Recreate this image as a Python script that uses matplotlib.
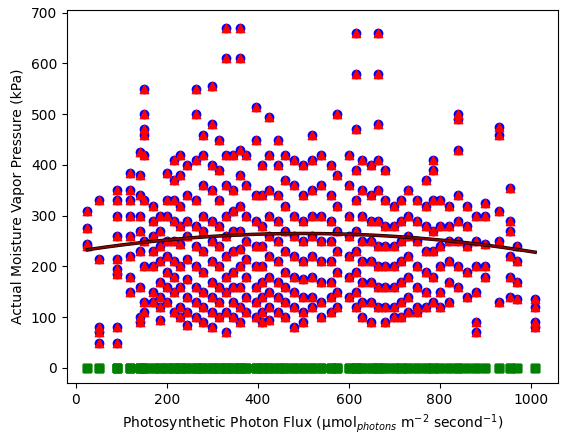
import numpy as np
import matplotlib.pyplot as plt

# photon flux columns and the vapor pressures measured at each
flux = [25, 50, 90, 120, 140, 150, 170, 185, 200, 215, 230, 245, 265, 280, 300, 315,
        330, 345, 360, 375, 395, 410, 425, 445, 460, 480, 500, 520, 540, 560, 575,
        600, 615, 630, 650, 665, 680, 700, 715, 730, 750, 770, 785, 800, 820, 840,
        860, 880, 900, 930, 955, 970, 1010]
vapor = [
    [310, 275, 245, 240],
    [330, 215, 80, 70, 50],
    [350, 330, 300, 260, 215, 195, 185, 80, 50],
    [385, 350, 330, 300, 260, 220, 180, 150],
    [425, 380, 340, 300, 270, 230, 160, 100, 90],
    [550, 500, 470, 460, 420, 330, 250, 200, 130, 110],
    [320, 290, 260, 230, 200, 150, 130],
    [300, 270, 240, 210, 170, 140, 120, 95],
    [385, 330, 300, 250, 220, 190, 160, 130],
    [410, 370, 330, 290, 250, 210, 180, 150, 110],
    [420, 380, 320, 280, 245, 200, 160, 120, 100],
    [400, 340, 290, 260, 215, 175, 140, 110, 85],
    [550, 500, 410, 330, 280, 240, 200, 160, 130, 100],
    [460, 420, 360, 300, 270, 230, 190, 150, 120, 90],
    [555, 480, 400, 350, 290, 250, 210, 170, 140, 110, 80],
    [450, 390, 330, 280, 240, 200, 160, 130, 100],
    [670, 610, 420, 360, 300, 260, 220, 180, 150, 110, 70],
    [420, 350, 310, 270, 230, 190, 160, 130, 100],
    [670, 610, 430, 380, 320, 270, 235, 200, 160, 120, 90],
    [420, 360, 300, 250, 215, 180, 140, 110],
    [515, 450, 340, 290, 240, 200, 160, 130, 100],
    [400, 340, 280, 240, 200, 170, 140, 110, 90],
    [495, 420, 350, 300, 260, 220, 180, 150, 120, 95],
    [450, 400, 340, 290, 250, 210, 170, 140, 110],
    [420, 370, 320, 270, 230, 190, 160, 130, 100],
    [410, 360, 300, 260, 220, 180, 150, 120, 80],
    [400, 340, 290, 250, 210, 175, 140, 110, 90],
    [460, 410, 350, 300, 260, 220, 180, 140, 120],
    [420, 360, 300, 250, 210, 170, 130, 100],
    [400, 340, 290, 250, 210, 170, 140, 110],
    [500, 380, 320, 270, 230, 190, 150, 120],
    [420, 360, 300, 260, 220, 180, 140],
    [660, 580, 470, 390, 330, 270, 230, 190, 150, 120],
    [410, 350, 300, 250, 210, 170, 130, 100],
    [400, 340, 290, 250, 210, 170, 130, 90],
    [660, 580, 480, 410, 350, 290, 240, 200, 160, 120],
    [390, 330, 280, 240, 200, 160, 120, 90],
    [320, 280, 240, 200, 160, 120, 100],
    [330, 290, 250, 210, 170, 130, 100],
    [350, 300, 260, 220, 180, 140, 110],
    [330, 290, 250, 200, 160, 120, 110],
    [370, 320, 280, 230, 190, 150, 120],
    [410, 390, 330, 270, 230, 180, 130],
    [330, 280, 240, 200, 150, 120],
    [320, 280, 250, 210, 170, 130],
    [500, 490, 430, 340, 290, 250, 200, 160],
    [320, 280, 240, 190, 140],
    [300, 250, 200, 150, 90, 70],
    [325, 300, 245, 200, 180],
    [475, 460, 310, 250, 130],
    [355, 290, 270, 220, 180, 140],
    [240, 210, 170, 135],
    [135, 120, 90, 80],
]

# quadratic trend: peak value, peak location, curvature
fit_peak, fit_x0, fit_a = 265.0, 500.0, -1.42e-4

xs = np.concatenate([[f] * len(v) for f, v in zip(flux, vapor)])
ys = np.concatenate(vapor)

fig, ax = plt.subplots(figsize=(5.71, 4.44), dpi=100)
ax.scatter(xs, np.zeros_like(ys), color='green', marker='s', s=40, zorder=2)
ax.scatter(xs, ys, color='blue', marker='o', s=36, zorder=3)
ax.scatter(xs, ys, color='red', marker='^', s=36, zorder=4)
xf = np.linspace(min(flux), max(flux), 200)
ax.plot(xf, fit_a * (xf - fit_x0) ** 2 + fit_peak, color='black', lw=2.5, zorder=5)
ax.plot(xf, fit_a * (xf - fit_x0) ** 2 + fit_peak, color='darkred', lw=1.5, zorder=6)

ax.set_xlim(-20, 1060)
ax.set_ylim(-30, 705)
ax.set_xlabel(r'Photosynthetic Photon Flux (µmol$_{photons}$ m$^{-2}$ second$^{-1}$)')
ax.set_ylabel('Actual Moisture Vapor Pressure (kPa)')
fig.subplots_adjust(left=0.117, right=0.977, bottom=0.137, top=0.977)
fig.savefig('out.png')
